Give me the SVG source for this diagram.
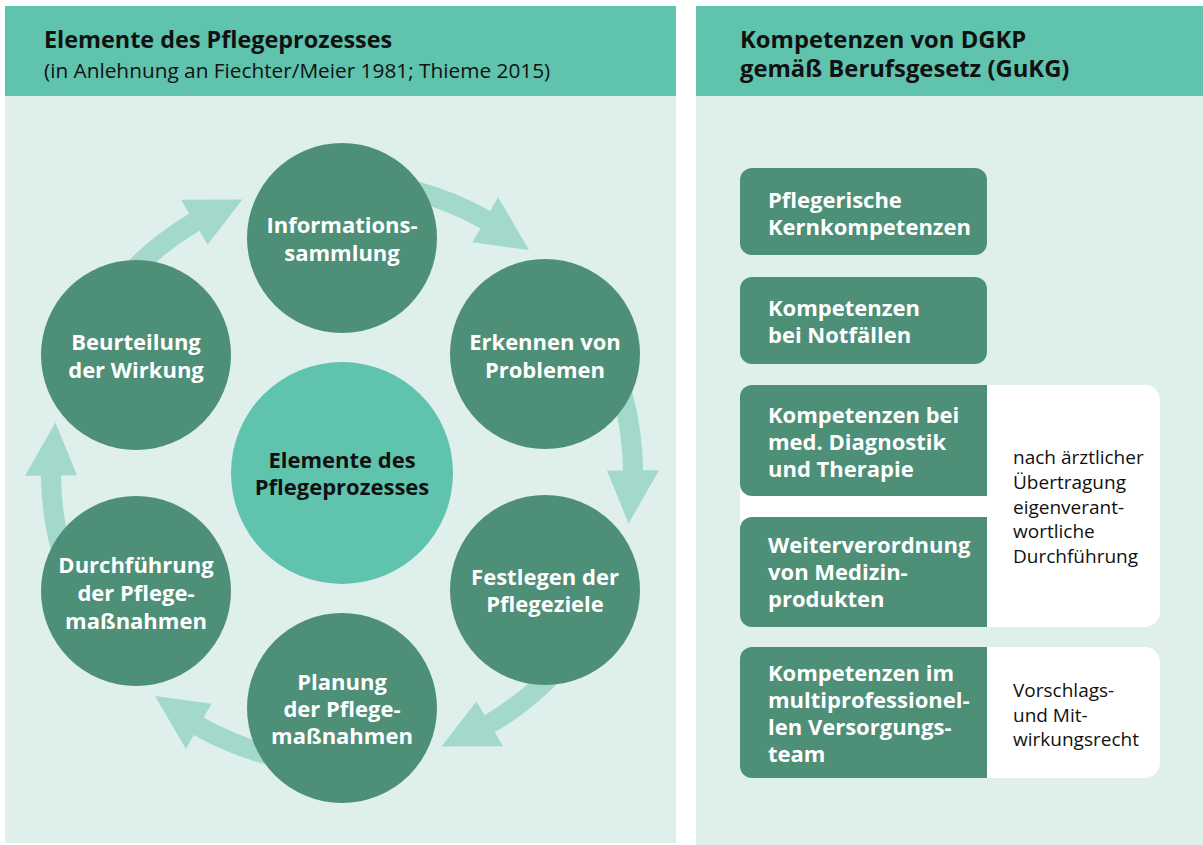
<svg xmlns="http://www.w3.org/2000/svg" xmlns:xlink="http://www.w3.org/1999/xlink" width="1203" height="845" viewBox="0 0 1203 845">
<style>
.hdr{fill:#5fc3ae}
.body{fill:#dff0ec}
.node{fill:#4e8f78}
.ctr{fill:#5fc3ae}
.arr{fill:#a3d9cb}
.t{font-family:"Open Sans","Noto Sans",sans-serif}
.title{font-size:23.4px;font-weight:700;fill:#111}
.title2{font-size:23.8px;font-weight:700;fill:#111}
.sub{font-size:20.8px;font-weight:400;fill:#111}
.ct{font-size:22px;font-weight:700;fill:#fff;text-anchor:middle}
.cb{font-size:22px;font-weight:700;fill:#111;text-anchor:middle}
.bt{font-size:22px;font-weight:700;fill:#fff}
.st{font-size:19px;font-weight:400;fill:#111}
.wbox{fill:#fff}
</style>
<defs>
<path id="arr" d="M230.6,-193.5 A301,301 0 0 1 296.0,-54.9 L311.7,-57.8 L291,0 L260.6,-48.3 L276.3,-51.2 A281,281 0 0 0 215.2,-180.6 Z"/>
</defs>
<rect width="1203" height="845" fill="#fff"/>

<g id="panel-left">
<rect class="body" x="5" y="96" width="671" height="747"/>
<rect class="hdr" x="5" y="6" width="671" height="90"/>
<text class="t title" x="44" y="48">Elemente des Pflegeprozesses</text>
<text class="t sub" x="44" y="78">(in Anlehnung an Fiechter/Meier 1981; Thieme 2015)</text>
</g>

<g id="panel-right">
<rect class="body" x="696" y="96" width="507" height="749"/>
<rect class="hdr" x="696" y="6" width="507" height="90"/>
<text class="t title2" x="740" y="48">Kompetenzen von DGKP</text>
<text class="t title2" x="740" y="77">gemäß Berufsgesetz (GuKG)</text>
</g>

<g id="connectors">
<use xlink:href="#arr" class="arr" transform="translate(342 473) rotate(-110)"/>
<use xlink:href="#arr" class="arr" transform="translate(342 473) rotate(-50)"/>
<use xlink:href="#arr" class="arr" transform="translate(342 473) rotate(10)"/>
<use xlink:href="#arr" class="arr" transform="translate(342 473) rotate(70)"/>
<use xlink:href="#arr" class="arr" transform="translate(342 473) rotate(130)"/>
<use xlink:href="#arr" class="arr" transform="translate(342 473) rotate(190)"/>
</g>

<g id="node-center">
<circle class="ctr" cx="342" cy="473" r="111"/>
<text class="t cb" x="342" y="468">Elemente des</text>
<text class="t cb" x="342" y="495">Pflegeprozesses</text>
</g>
<g id="node-info">
<circle class="node" cx="342" cy="238" r="95"/>
<text class="t ct" x="342" y="233">Informations-</text>
<text class="t ct" x="342" y="261">sammlung</text>
</g>
<g id="node-erkennen">
<circle class="node" cx="545" cy="354" r="95"/>
<text class="t ct" x="545" y="350">Erkennen von</text>
<text class="t ct" x="545" y="378">Problemen</text>
</g>
<g id="node-festlegen">
<circle class="node" cx="545" cy="590" r="95"/>
<text class="t ct" x="545" y="585">Festlegen der</text>
<text class="t ct" x="545" y="612">Pflegeziele</text>
</g>
<g id="node-planung">
<circle class="node" cx="342" cy="708" r="95"/>
<text class="t ct" x="342" y="690">Planung</text>
<text class="t ct" x="342" y="717">der Pflege-</text>
<text class="t ct" x="342" y="744">maßnahmen</text>
</g>
<g id="node-durchfuehrung">
<circle class="node" cx="136" cy="591" r="95"/>
<text class="t ct" x="136" y="573">Durchführung</text>
<text class="t ct" x="136" y="601">der Pflege-</text>
<text class="t ct" x="136" y="629">maßnahmen</text>
</g>
<g id="node-beurteilung">
<circle class="node" cx="136" cy="355" r="95"/>
<text class="t ct" x="136" y="350">Beurteilung</text>
<text class="t ct" x="136" y="378">der Wirkung</text>
</g>

<g id="box-kern">
<rect class="node" x="740" y="168" width="247" height="87" rx="12"/>
<text class="t bt" x="768" y="208">Pflegerische</text>
<text class="t bt" x="768" y="235">Kernkompetenzen</text>
</g>
<g id="box-notfall">
<rect class="node" x="740" y="277" width="247" height="87" rx="12"/>
<text class="t bt" x="768" y="316">Kompetenzen</text>
<text class="t bt" x="768" y="343">bei Notfällen</text>
</g>
<g id="box-aerztlich">
<rect class="wbox" x="740" y="385" width="420" height="242" rx="15"/>
<path class="node" d="M752,385 H987 V496 H752 A12,12 0 0 1 740,484 V397 A12,12 0 0 1 752,385 Z"/>
<path class="node" d="M752,517 H987 V627 H752 A12,12 0 0 1 740,615 V529 A12,12 0 0 1 752,517 Z"/>
<text class="t bt" x="768" y="423">Kompetenzen bei</text>
<text class="t bt" x="768" y="450">med. Diagnostik</text>
<text class="t bt" x="768" y="477">und Therapie</text>
<text class="t bt" x="768" y="553">Weiterverordnung</text>
<text class="t bt" x="768" y="580">von Medizin-</text>
<text class="t bt" x="768" y="607">produkten</text>
<text class="t st" x="1013" y="464">nach ärztlicher</text>
<text class="t st" x="1013" y="489">Übertragung</text>
<text class="t st" x="1013" y="514">eigenverant-</text>
<text class="t st" x="1013" y="538">wortliche</text>
<text class="t st" x="1013" y="563">Durchführung</text>
</g>
<g id="box-team">
<rect class="wbox" x="740" y="647" width="420" height="131" rx="15"/>
<path class="node" d="M752,647 H987 V778 H752 A12,12 0 0 1 740,766 V659 A12,12 0 0 1 752,647 Z"/>
<text class="t bt" x="768" y="681">Kompetenzen im</text>
<text class="t bt" x="768" y="708">multiprofessionel-</text>
<text class="t bt" x="768" y="735">len Versorgungs-</text>
<text class="t bt" x="768" y="762">team</text>
<text class="t st" x="1013" y="697">Vorschlags-</text>
<text class="t st" x="1013" y="722">und Mit-</text>
<text class="t st" x="1013" y="746">wirkungsrecht</text>
</g>
</svg>
